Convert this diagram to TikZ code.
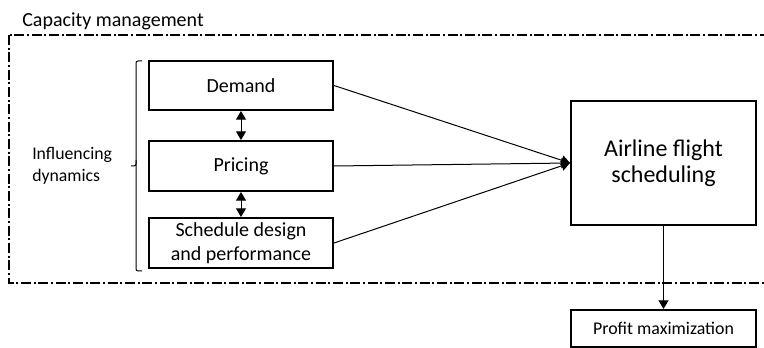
\documentclass[tikz,border=0pt]{standalone}
\usepackage{fontspec}
\setmainfont{Carlito}
\usetikzlibrary{arrows.meta}
\tikzset{
    box/.style={draw, line width=1.5pt, align=center, inner sep=0pt,
        minimum width=138pt, minimum height=37.5pt, font=\fontsize{15}{18}\selectfont},
    link/.style={line width=0.75pt, -{Triangle[length=6.5pt, width=7.5pt]}},
    dlink/.style={line width=0.75pt, {Triangle[length=6.5pt, width=7.5pt]}-{Triangle[length=6.5pt, width=7.5pt]}},
    frame/.style={line width=1.2pt, dash pattern=on 7.5pt off 2pt on 1.5pt off 2pt}
}
\begin{document}
\begin{tikzpicture}[x=0.75pt, y=-0.75pt]
    \useasboundingbox (0, 0) rectangle (764, 348);
    \draw[frame] (9, 35) rectangle (800, 283);
    \node[anchor=base west, inner sep=0pt, font=\fontsize{15}{18}\selectfont] (title) at (22, 27) {Capacity management};

    \node[box, minimum height=36.75pt] (demand) at (241, 85.5) {Demand};
    \node[box] (pricing) at (241, 166) {Pricing};
    \node[box] (schedule) at (241, 243) {Schedule design\\and performance};
    \draw[dlink] (demand.south) -- (pricing.north);
    \draw[dlink] (pricing.south) -- (schedule.north);

    \draw[line width=0.75pt, rounded corners=1.5pt] (142, 61) -- (136, 61) -- (136, 166) -- (131, 166);
    \draw[line width=0.75pt, rounded corners=1.5pt] (136, 160) -- (136, 271) -- (142, 271);
    \node[anchor=west, align=left, inner sep=0pt, font=\fontsize{13.3}{16.5}\selectfont] (dynamics) at (32, 166) {Influencing\\dynamics};

    \node[box, minimum width=138.75pt, minimum height=93pt, font=\fontsize{18}{19.5}\selectfont] (airline) at (663.5, 163) {Airline flight\\scheduling};
    \draw[link] (demand.east) -- (airline.west);
    \draw[link] (pricing.east) -- (airline.west);
    \draw[link] (schedule.east) -- (airline.west);

    \node[box, minimum width=138.75pt, minimum height=27.75pt, font=\fontsize{13.4}{16}\selectfont] (profit) at (663.5, 328.5) {Profit maximization};
    \draw[link] (airline.south) -- (profit.north);
\end{tikzpicture}
\end{document}
